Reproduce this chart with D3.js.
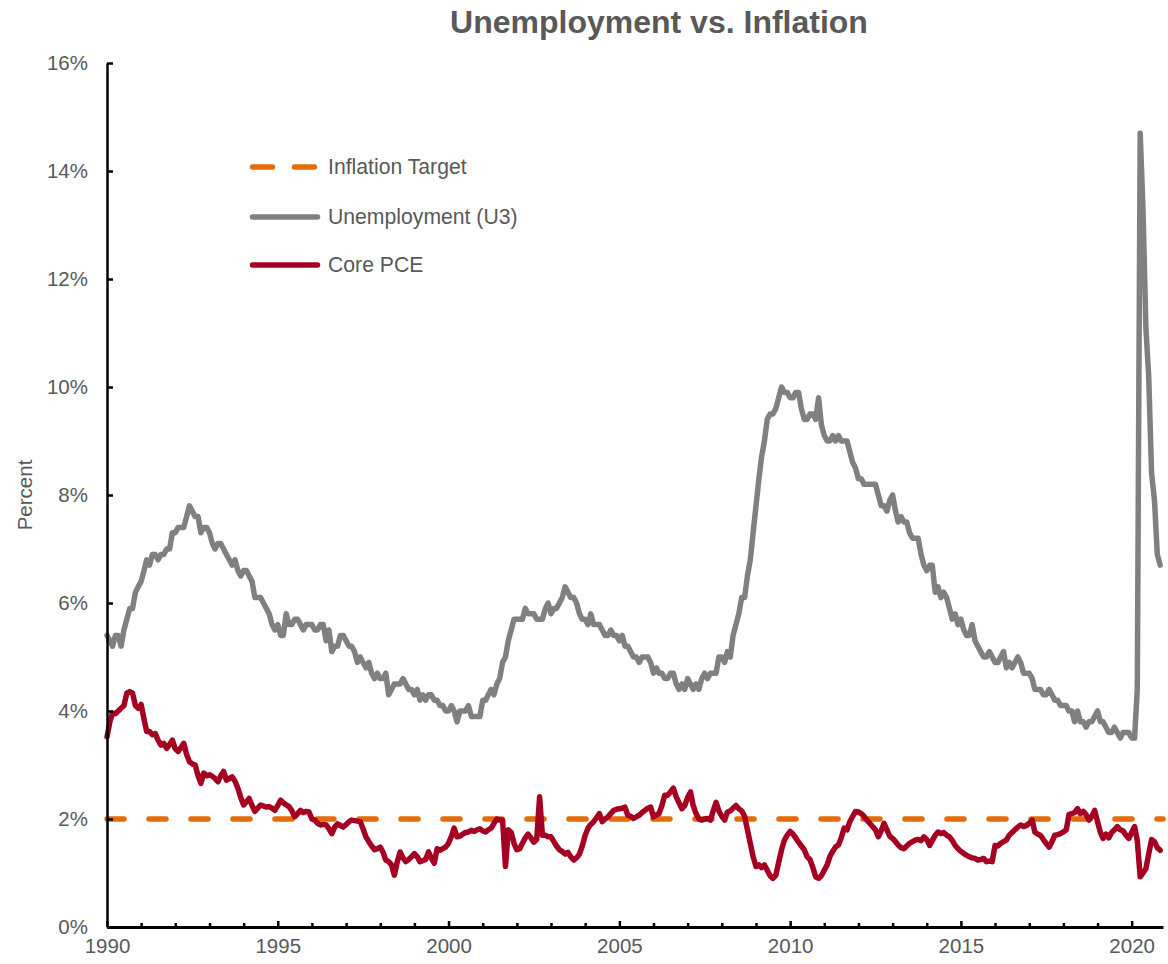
<!DOCTYPE html>
<html><head><meta charset="utf-8">
<script src="https://cdn.jsdelivr.net/npm/d3@7"></script>
<style>
html,body{margin:0;padding:0;background:#fff;}
svg{display:block;font-family:"Liberation Sans",Arial,sans-serif;}
</style></head><body>
<svg id="chart" width="1168" height="964"></svg>
<script>
// ---- DATA (monthly, Jan 1990 .. Nov 2020) ----
const startYear = 1990;
const unemployment = [
5.4,5.3,5.2,5.4,5.4,5.2,5.5,5.7,5.9,5.9,6.2,6.3,
6.4,6.6,6.8,6.7,6.9,6.9,6.8,6.9,6.9,7.0,7.0,7.3,
7.3,7.4,7.4,7.4,7.6,7.8,7.7,7.6,7.6,7.3,7.4,7.4,
7.3,7.1,7.0,7.1,7.1,7.0,6.9,6.8,6.7,6.8,6.6,6.5,
6.6,6.6,6.5,6.4,6.1,6.1,6.1,6.0,5.9,5.8,5.6,5.5,
5.6,5.4,5.4,5.8,5.6,5.6,5.7,5.7,5.6,5.5,5.6,5.6,
5.6,5.5,5.5,5.6,5.6,5.3,5.5,5.1,5.2,5.2,5.4,5.4,
5.3,5.2,5.2,5.1,4.9,5.0,4.9,4.8,4.9,4.7,4.6,4.7,
4.6,4.6,4.7,4.3,4.4,4.5,4.5,4.5,4.6,4.5,4.4,4.4,
4.3,4.4,4.2,4.3,4.2,4.3,4.3,4.2,4.2,4.1,4.1,4.0,
4.0,4.1,4.0,3.8,4.0,4.0,4.0,4.1,3.9,3.9,3.9,3.9,
4.2,4.2,4.3,4.4,4.3,4.5,4.6,4.9,5.0,5.3,5.5,5.7,
5.7,5.7,5.7,5.9,5.8,5.8,5.8,5.7,5.7,5.7,5.9,6.0,
5.8,5.9,5.9,6.0,6.1,6.3,6.2,6.1,6.1,6.0,5.8,5.7,
5.7,5.6,5.8,5.6,5.6,5.6,5.5,5.4,5.4,5.5,5.4,5.4,
5.3,5.4,5.2,5.2,5.1,5.0,5.0,4.9,5.0,5.0,5.0,4.9,
4.7,4.8,4.7,4.7,4.6,4.6,4.7,4.7,4.5,4.4,4.5,4.4,
4.6,4.5,4.4,4.5,4.4,4.6,4.7,4.6,4.7,4.7,4.7,5.0,
5.0,4.9,5.1,5.0,5.4,5.6,5.8,6.1,6.1,6.5,6.8,7.3,
7.8,8.3,8.7,9.0,9.4,9.5,9.5,9.6,9.8,10.0,9.9,9.9,
9.8,9.8,9.9,9.9,9.6,9.4,9.4,9.5,9.5,9.4,9.8,9.3,
9.1,9.0,9.0,9.1,9.0,9.1,9.0,9.0,9.0,8.8,8.6,8.5,
8.3,8.3,8.2,8.2,8.2,8.2,8.2,8.0,7.8,7.8,7.7,7.9,
8.0,7.7,7.5,7.6,7.5,7.5,7.3,7.2,7.2,7.2,6.9,6.7,
6.6,6.7,6.7,6.2,6.3,6.1,6.2,6.1,5.9,5.7,5.8,5.6,
5.7,5.5,5.4,5.4,5.6,5.3,5.2,5.1,5.0,5.0,5.1,5.0,
4.9,4.9,5.0,5.1,4.8,4.9,4.8,4.9,5.0,4.9,4.7,4.7,
4.7,4.6,4.4,4.4,4.4,4.3,4.3,4.4,4.3,4.2,4.2,4.1,
4.1,4.1,4.0,4.0,3.8,4.0,3.8,3.8,3.7,3.8,3.8,3.9,
4.0,3.8,3.8,3.7,3.6,3.6,3.7,3.6,3.5,3.6,3.6,3.6,
3.5,3.5,4.4,14.7,13.3,11.1,10.2,8.4,7.9,6.9,6.7
];
const corePCE = [
3.52,3.80,3.96,3.95,4.00,4.05,4.10,4.33,4.36,4.33,4.10,4.05,
4.12,3.85,3.62,3.62,3.56,3.58,3.46,3.37,3.40,3.31,3.38,3.46,
3.30,3.25,3.32,3.40,3.20,3.06,3.02,3.00,2.80,2.66,2.85,2.80,
2.82,2.79,2.75,2.69,2.80,2.88,2.72,2.75,2.78,2.70,2.57,2.40,
2.26,2.32,2.38,2.25,2.14,2.20,2.26,2.24,2.22,2.23,2.20,2.16,
2.25,2.35,2.30,2.26,2.23,2.15,2.04,2.10,2.16,2.12,2.14,2.13,
2.00,1.98,1.92,1.89,1.90,1.89,1.82,1.73,1.85,1.91,1.88,1.85,
1.90,1.95,1.98,1.97,1.96,1.95,1.82,1.67,1.58,1.50,1.43,1.45,
1.48,1.38,1.24,1.21,1.15,0.96,1.20,1.39,1.28,1.21,1.25,1.30,
1.36,1.30,1.21,1.23,1.25,1.39,1.28,1.18,1.45,1.42,1.45,1.48,
1.55,1.68,1.83,1.67,1.68,1.72,1.75,1.76,1.79,1.77,1.80,1.82,
1.78,1.76,1.80,1.83,1.92,2.00,1.98,1.98,1.12,1.80,1.75,1.55,
1.43,1.45,1.55,1.65,1.72,1.65,1.57,1.62,2.41,1.70,1.70,1.67,
1.67,1.58,1.50,1.43,1.40,1.35,1.38,1.30,1.24,1.28,1.35,1.50,
1.70,1.83,1.90,1.95,2.02,2.10,1.95,2.00,2.04,2.10,2.16,2.18,
2.19,2.20,2.22,2.07,2.05,2.01,2.04,2.07,2.12,2.16,2.20,2.22,
2.04,2.08,2.10,2.25,2.44,2.44,2.50,2.57,2.41,2.30,2.19,2.25,
2.40,2.50,2.25,2.10,2.00,1.98,2.00,2.01,1.98,2.15,2.31,2.15,
2.05,1.98,2.13,2.15,2.20,2.25,2.19,2.15,2.05,1.80,1.55,1.30,
1.12,1.15,1.10,1.15,1.05,0.95,0.90,0.96,1.20,1.43,1.61,1.70,
1.77,1.72,1.65,1.57,1.50,1.43,1.30,1.25,1.10,0.93,0.90,0.95,
1.05,1.15,1.30,1.40,1.48,1.52,1.65,1.83,1.80,1.95,2.05,2.14,
2.13,2.10,2.05,1.98,1.92,1.86,1.80,1.67,1.78,1.92,1.80,1.68,
1.64,1.58,1.52,1.47,1.45,1.50,1.55,1.58,1.61,1.62,1.60,1.67,
1.62,1.51,1.60,1.70,1.76,1.73,1.75,1.70,1.67,1.60,1.51,1.45,
1.40,1.36,1.33,1.30,1.28,1.27,1.24,1.25,1.27,1.21,1.22,1.21,
1.51,1.50,1.55,1.58,1.61,1.70,1.75,1.80,1.85,1.89,1.86,1.88,
1.92,1.98,1.76,1.72,1.70,1.62,1.55,1.48,1.58,1.70,1.71,1.73,
1.76,1.80,2.08,2.10,2.12,2.19,2.10,2.14,2.08,1.98,2.05,2.16,
1.95,1.75,1.64,1.72,1.65,1.75,1.80,1.86,1.80,1.78,1.70,1.64,
1.75,1.86,1.60,0.93,1.00,1.08,1.35,1.62,1.58,1.47,1.42
];
const inflationTarget = 2;
const yTicks = [0,2,4,6,8,10,12,14,16];
const xLabelYears = [1990,1995,2000,2005,2010,2015,2020];
const seriesNames = ["Inflation Target","Unemployment (U3)","Core PCE"];
const titleText = "Unemployment vs. Inflation";
const yAxisTitle = "Percent";

// ---- CHART ----
const colors = {target:"#E46C0A", unemp:"#808080", pce:"#A50021", text:"#595959"};
const svg = d3.select("#chart");
const X0 = 107, X1 = 1163, Y0 = 927, Y1 = 63;
const x = d3.scaleTime().domain([new Date(1990,0,1), new Date(2020,11,1)]).range([X0, X1]);
const y = d3.scaleLinear().domain([0,16]).range([Y0, Y1]);
const dateOf = i => new Date(startYear, i, 1);
const LW = 5.5;

const line = d3.line().x(d => x(d.date)).y(d => y(d.v));

// Title
svg.append("text").attr("x",659).attr("y",33).attr("text-anchor","middle")
  .attr("font-size",32).attr("font-weight","bold").attr("fill",colors.text).text(titleText);

// Y axis title
svg.append("text").attr("transform","translate(32,495) rotate(-90)").attr("text-anchor","middle")
  .attr("font-size",20.5).attr("fill",colors.text).text(yAxisTitle);

// Series
const targetData = [{date:x.domain()[0], v:inflationTarget},{date:x.domain()[1], v:inflationTarget}];
svg.append("path").datum(targetData).attr("d",line).attr("fill","none")
  .attr("stroke",colors.target).attr("stroke-width",LW).attr("stroke-linecap","round")
  .attr("stroke-dasharray","17,25");
svg.append("path").datum(unemployment.map((v,i)=>({date:dateOf(i),v})))
  .attr("d",line).attr("fill","none").attr("stroke",colors.unemp).attr("stroke-width",LW)
  .attr("stroke-linejoin","round").attr("stroke-linecap","round");
svg.append("path").datum(corePCE.map((v,i)=>({date:dateOf(i),v})))
  .attr("d",line).attr("fill","none").attr("stroke",colors.pce).attr("stroke-width",LW)
  .attr("stroke-linejoin","round").attr("stroke-linecap","round");

// Y axis
const yAxis = d3.axisLeft(y).tickValues(yTicks).tickFormat(d => d + "%")
  .tickSizeInner(-6).tickSizeOuter(0).tickPadding(19);
const gy = svg.append("g").attr("transform",`translate(${X0},0)`).call(yAxis);
gy.select(".domain").attr("stroke","#000").attr("stroke-width",2.5);
gy.selectAll(".tick line").attr("stroke","#000").attr("stroke-width",2.5);
gy.selectAll(".tick text").attr("font-size",20.5).attr("fill",colors.text)
  .attr("font-family","'Liberation Sans',Arial,sans-serif");

// X axis
const yearTicks = d3.range(1990, 2021).map(yr => new Date(yr,0,1));
const xAxis = d3.axisBottom(x).tickValues(yearTicks)
  .tickFormat(d => xLabelYears.includes(d.getFullYear()) ? d.getFullYear() : "")
  .tickSizeInner(-4).tickSizeOuter(0).tickPadding(11);
const gx = svg.append("g").attr("transform",`translate(0,${Y0})`).call(xAxis);
gx.select(".domain").attr("stroke","#000").attr("stroke-width",3);
gx.selectAll(".tick line").attr("stroke","#000").attr("stroke-width",2.5)
  .attr("y2", d => xLabelYears.includes(d.getFullYear()) ? -6 : -4);
gx.selectAll(".tick text").attr("font-size",20.5).attr("fill",colors.text)
  .attr("font-family","'Liberation Sans',Arial,sans-serif");

// Legend
const legendRows = [
  {name:seriesNames[0], color:colors.target, dash:"17,25", y:167},
  {name:seriesNames[1], color:colors.unemp, dash:null, y:217},
  {name:seriesNames[2], color:colors.pce, dash:null, y:265}
];
const lg = svg.append("g");
legendRows.forEach(r => {
  lg.append("line").attr("x1",252.5).attr("x2",317.5).attr("y1",r.y).attr("y2",r.y)
    .attr("stroke",r.color).attr("stroke-width",LW).attr("stroke-linecap","round")
    .attr("stroke-dasharray", r.dash ? "20,22" : null);
  lg.append("text").attr("x",328).attr("y",r.y).attr("dy","0.35em")
    .attr("font-size",21.2).attr("fill",colors.text).text(r.name);
});
</script>
</body></html>
